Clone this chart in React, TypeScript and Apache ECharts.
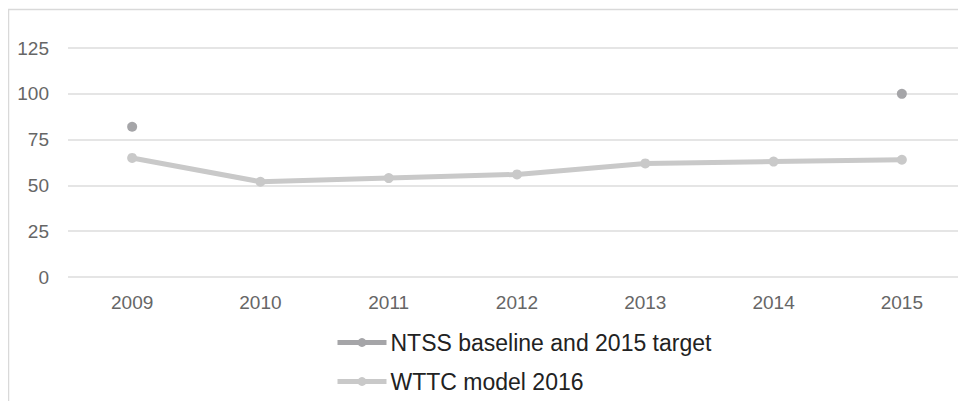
import React, { useEffect, useRef } from "react";
import * as echarts from "echarts";

const categories = ["2009", "2010", "2011", "2012", "2013", "2014", "2015"];
const ntss: (number | null)[] = [82, null, null, null, null, null, 100];
const wttc = [65, 52, 54, 56, 62, 63, 64];
const yTicks = { min: 0, max: 125, interval: 25 };

export default function App() {
  const ref = useRef<HTMLDivElement>(null);
  useEffect(() => {
    if (!ref.current) return;
    const chart = echarts.init(ref.current, undefined, { renderer: "svg" });
    chart.setOption({
      animation: false,
      textStyle: { fontFamily: "Liberation Sans, Arial, sans-serif" },
      graphic: [
        {
          type: "rect",
          shape: { x: 0.5, y: 1.5, width: 1200, height: 600 },
          style: { fill: "none", stroke: "#d9d9d9", lineWidth: 1.5 },
          silent: true,
        },
      ],
      grid: { left: 60, right: -5.5, top: 40, bottom: 124, containLabel: false },
      xAxis: {
        type: "category",
        data: categories,
        axisLine: { show: false },
        axisTick: { show: false },
        axisLabel: { color: "#666666", fontSize: 19, margin: 16 },
      },
      yAxis: {
        type: "value",
        min: yTicks.min,
        max: yTicks.max,
        interval: yTicks.interval,
        axisLine: { show: false },
        axisTick: { show: false },
        axisLabel: { color: "#666666", fontSize: 19, margin: 19 },
        splitLine: { lineStyle: { color: "#dddddd", width: 1.5 } },
      },
      legend: {
        orient: "vertical",
        left: 322,
        top: 318,
        itemWidth: 49,
        itemHeight: 11,
        itemGap: 16,
        lineStyle: { width: 5 },
        textStyle: { fontSize: 23, color: "#222222", lineHeight: 22, padding: [0, 0, 0, -1] },
        data: ["NTSS baseline and 2015 target", "WTTC model 2016"],
      },
      series: [
        {
          name: "NTSS baseline and 2015 target",
          type: "line",
          data: ntss,
          symbol: "circle",
          symbolSize: 10,
          connectNulls: false,
          itemStyle: { color: "#a5a5a8" },
          lineStyle: { color: "#a5a5a8", width: 5 },
          z: 3,
        },
        {
          name: "WTTC model 2016",
          type: "line",
          data: wttc,
          symbol: "circle",
          symbolSize: 10,
          itemStyle: { color: "#c9c9c9" },
          lineStyle: { color: "#c9c9c9", width: 5 },
          z: 2,
        },
      ],
    });
    return () => chart.dispose();
  }, []);
  return <div ref={ref} style={{ width: 958, height: 393 }} />;
}
